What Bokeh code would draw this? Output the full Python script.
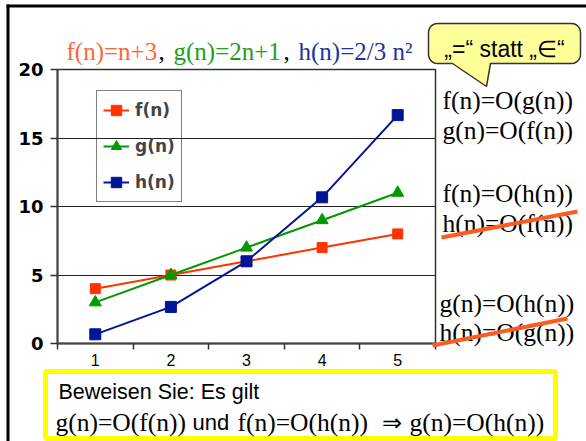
import math
from bokeh.plotting import figure
from bokeh.models import Range1d, FixedTicker, Label, PolyAnnotation, Arrow, BoxAnnotation
from bokeh.embed import file_html
from bokeh.resources import INLINE

# ---- data ----
n = [1, 2, 3, 4, 5]
f_vals = [4, 5, 6, 7, 8]
g_vals = [3, 5, 7, 9, 11]
h_vals = [0.67, 2.67, 6.0, 10.67, 16.67]
y_ticks = [0, 5, 10, 15, 20]
x_bounds = [0.5, 1.5, 2.5, 3.5, 4.5, 5.5]
series_names = ["f(n)", "g(n)", "h(n)"]
title_parts = ["f(n)=n+3", ", ", "g(n)=2n+1", ", ", "h(n)=2/3 n\u00b2"]
right_texts = ["f(n)=O(g(n))", "g(n)=O(f(n))", "f(n)=O(h(n))",
               "h(n)=O(f(n))", "g(n)=O(h(n))", "h(n)=O(g(n))"]
callout_text = "\u201e=\u201c statt \u201e\u2208\u201c"
proof_line1 = "Beweisen Sie: Es gilt"
proof_line2 = ["g(n)=O(f(n))", "und", "f(n)=O(h(n))", "\u21d2", "g(n)=O(h(n))"]

# ---- layout (pixels) & styles ----
W, H = 586, 441
PL, PR, PT, PB = 57, 435, 69, 343   # chart area in page pixels
SERIF = "Liberation Serif"
SANS = "Liberation Sans"
f_col, g_col, h_col = "#FF3300", "#009900", "#001496"
strike_col = "#FF5A1F"
DY = 6   # baseline correction

x_lo, x_hi = x_bounds[0], x_bounds[-1]
y_lo, y_hi = y_ticks[0], y_ticks[-1]
kx = (x_hi - x_lo) / (PR - PL)
ky = (y_hi - y_lo) / (PB - PT)
x_range = Range1d(x_lo - PL * kx, x_hi + (W - PR) * kx)
y_range = Range1d(y_lo - (H - PB) * ky, y_hi + PT * ky)


def sx(ix):
    return ix


def sy(iy):
    return H - iy


p = figure(width=W, height=H, output_backend="svg", toolbar_location=None,
           title=None, x_range=x_range, y_range=y_range,
           min_border=0, min_border_left=0, min_border_right=0,
           min_border_top=0, min_border_bottom=0)
p.background_fill_color = "white"
p.border_fill_color = "white"
p.outline_line_color = None

# axes
p.xaxis.fixed_location = y_lo
p.xaxis.bounds = (x_lo, x_hi)
p.xaxis.ticker = FixedTicker(ticks=n, minor_ticks=x_bounds)
p.xaxis.major_tick_out = 0
p.xaxis.major_tick_in = 0
p.xaxis.minor_tick_out = 6
p.xaxis.minor_tick_in = 0
p.xaxis.minor_tick_line_color = "#333333"
p.xaxis.minor_tick_line_width = 1.5
p.xaxis.axis_line_color = "#444444"
p.xaxis.axis_line_width = 2
p.xaxis.major_label_text_font = SANS
p.xaxis.major_label_text_font_size = "16px"
p.xaxis.major_label_text_color = "black"
p.xaxis.major_label_standoff = 4

p.yaxis.fixed_location = x_lo
p.yaxis.bounds = (y_lo, y_hi)
p.yaxis.ticker = FixedTicker(ticks=y_ticks)
p.yaxis.major_tick_out = 7
p.yaxis.major_tick_in = 0
p.yaxis.minor_tick_line_color = None
p.yaxis.major_tick_line_color = "#333333"
p.yaxis.major_tick_line_width = 1.5
p.yaxis.axis_line_color = "#444444"
p.yaxis.axis_line_width = 2
p.yaxis.major_label_text_font = "DejaVu Sans"
p.yaxis.major_label_text_font_style = "bold"
p.yaxis.major_label_text_font_size = "18px"
p.yaxis.major_label_text_color = "black"
p.yaxis.major_label_standoff = 7

p.xgrid.grid_line_color = None
grid = p.ygrid[0]
if "cross_bounds" in grid.properties():
    grid.ticker = FixedTicker(ticks=y_ticks[1:-1])
    grid.grid_line_color = "#222222"
    grid.grid_line_width = 1
    grid.cross_bounds = (x_lo, x_hi)
else:
    grid.grid_line_color = None
    inner = y_ticks[1:-1]
    p.segment(x0=[x_lo] * len(inner), y0=inner, x1=[x_hi] * len(inner), y1=inner,
              line_color="#222222", line_width=1, level="underlay")

# chart-area border (top and right edges)
p.add_layout(BoxAnnotation(left=x_lo, right=x_hi, bottom=y_lo, top=y_hi,
                           fill_alpha=0, line_color="#333333", line_alpha=1,
                           line_width=1.5, level="underlay"))

# series
p.line(n, f_vals, line_color=f_col, line_width=2, legend_label=series_names[0])
p.scatter(n, f_vals, marker="square", size=10, fill_color=f_col, line_color=f_col,
          legend_label=series_names[0])
p.line(n, g_vals, line_color=g_col, line_width=2, legend_label=series_names[1])
p.scatter(n, g_vals, marker="triangle", size=12, fill_color=g_col, line_color=g_col,
          legend_label=series_names[1])
p.line(n, h_vals, line_color=h_col, line_width=2, legend_label=series_names[2])
p.scatter(n, h_vals, marker="square", size=11, fill_color=h_col, line_color=h_col,
          legend_label=series_names[2])

lg = p.legend[0]
lg.location = (sx(96), sy(202))
lg.label_text_font = "DejaVu Sans"
lg.label_text_font_style = "bold"
lg.label_text_font_size = "17px"
lg.glyph_width = 26
lg.glyph_height = 26
lg.label_height = 26
lg.spacing = 10
lg.padding = 6
lg.margin = 0
lg.label_standoff = 6
lg.border_line_color = "black"
lg.border_line_width = 1
lg.background_fill_alpha = 0


def label(ix, iy, text, font, size, color="black", align="left", baseline="alphabetic"):
    p.add_layout(Label(x=sx(ix), y=sy(iy - DY), x_units="screen", y_units="screen",
                       text=text, text_font=font, text_font_size=size,
                       text_color=color, text_align=align, text_baseline=baseline))


# title
title_cols = ["#FF6633", "black", "#1EA01E", "black", "#1C34A0"]
title_x = [66, 158, 173, 283, 298]
for tx, tt, tc in zip(title_x, title_parts, title_cols):
    label(tx, 57, tt, SERIF, "25px", tc)

# right-hand statements
rx = [442, 442, 442, 442, 439, 439]
ry = [106, 136, 199, 229, 309, 338]
for ix, iy, t in zip(rx, ry, right_texts):
    label(ix, iy, t, SERIF, "25.5px")

# strike-through lines
for (x0, y0, x1, y1) in [(441, 237, 577, 211), (432, 345, 567, 318)]:
    p.add_layout(Arrow(end=None, x_start=sx(x0), y_start=sy(y0), x_end=sx(x1), y_end=sy(y1),
                       start_units="screen", end_units="screen",
                       line_color=strike_col, line_width=4))


# callout bubble
def bubble(x0, y0, x1, y1, r, tl, tr, tip):
    pts = []

    def arc(cx, cy, a0, a1):
        for k in range(7):
            a = math.radians(a0 + (a1 - a0) * k / 6)
            pts.append((cx + r * math.cos(a), cy + r * math.sin(a)))
    arc(x1 - r, y0 + r, -90, 0)
    arc(x1 - r, y1 - r, 0, 90)
    pts.append((tr, y1))
    pts.append(tip)
    pts.append((tl, y1))
    arc(x0 + r, y1 - r, 90, 180)
    arc(x0 + r, y0 + r, 180, 270)
    return pts


bp = bubble(428, 23, 580, 63, 9, 452, 490, (486, 86))
p.add_layout(PolyAnnotation(xs=[sx(a) for a, b in bp], ys=[sy(b) for a, b in bp],
                            xs_units="screen", ys_units="screen",
                            fill_color="#FFFF99", fill_alpha=1,
                            line_color="#333333", line_alpha=1, line_width=1.5))
label(504, 54, callout_text, SANS, "23px", align="center")

# proof box
bx = [45, 555, 555, 45]
by = [371, 371, 438, 438]
p.add_layout(PolyAnnotation(xs=[sx(a) for a in bx], ys=[sy(b) for b in by],
                            xs_units="screen", ys_units="screen",
                            fill_color="white", fill_alpha=0,
                            line_color="#FFFF00", line_alpha=1, line_width=5))
label(58, 397, proof_line1, SANS, "21.5px")
p2x = [55, 192, 237, 381, 409]
p2f = [SERIF, SANS, SERIF, SERIF, SERIF]
p2s = ["25.5px", "22px", "25.5px", "24px", "25.5px"]
for ix, t, fnt, sz in zip(p2x, proof_line2, p2f, p2s):
    label(ix, 428, t, fnt, sz)

# slide frame edges
for (x0, y0, x1, y1) in [(6, 5.5, 586, 5.5), (7.5, 4, 7.5, 441)]:
    p.add_layout(Arrow(end=None, x_start=sx(x0), y_start=sy(y0), x_end=sx(x1), y_end=sy(y1),
                       start_units="screen", end_units="screen",
                       line_color="black", line_width=3))

open("out.html", "w").write(file_html(p, INLINE))
